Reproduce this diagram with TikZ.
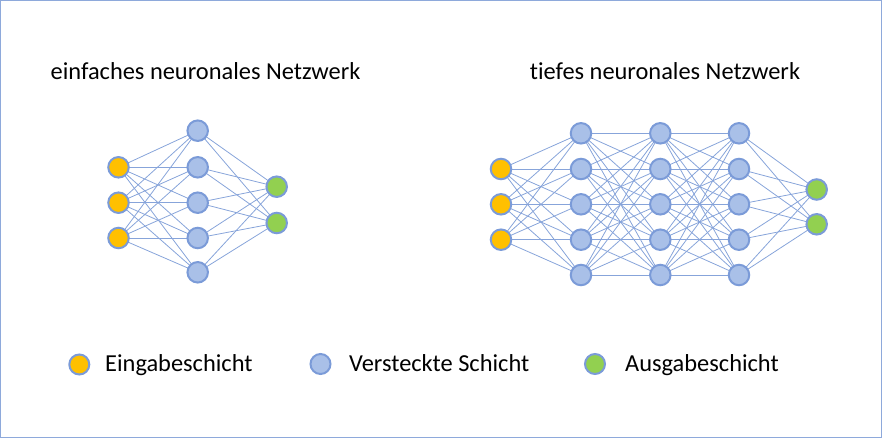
\documentclass[tikz,border=0pt]{standalone}
\usepackage{fontspec}
\setmainfont[Ligatures=NoCommon]{Carlito}
\definecolor{nodeblue}{HTML}{A9C0E8}
\definecolor{strokeblue}{HTML}{7B9BD8}
\definecolor{edgeblue}{HTML}{87A4DA}
\definecolor{inyellow}{HTML}{FFC000}
\definecolor{outgreen}{HTML}{92D050}
\definecolor{framecol}{HTML}{8EA9DB}
\tikzset{
  neuron/.style={circle, draw=strokeblue, line width=2pt, minimum size=20.5pt, inner sep=0pt},
  innode/.style={neuron, fill=inyellow},
  hidnode/.style={neuron, fill=nodeblue},
  outnode/.style={neuron, fill=outgreen},
  legnode/.style={neuron, minimum size=20pt},
  edge/.style={draw=edgeblue, line width=0.8pt},
  title/.style={font=\fontsize{24.4}{28}\selectfont, anchor=base, inner sep=0pt},
  legtext/.style={font=\fontsize{24.4}{28}\selectfont, anchor=base west, inner sep=0pt}
}
\begin{document}
\begin{tikzpicture}[x=1pt,y=-1pt]
\useasboundingbox (0,0) rectangle (882,438);
\draw[framecol, line width=1.2pt] (0.6,0.6) rectangle (881.4,437.4);

% titles
\node[title] (t1) at (205.5,80) {einfaches neuronales Netzwerk};
\node[title] (t2) at (665,80) {tiefes neuronales Netzwerk};

% simple network
\foreach \i/\y in {1/167.3,2/202.7,3/238} \coordinate (ai\i) at (118.5,\y);
\foreach \i/\y in {1/130.7,2/167.3,3/202.7,4/238,5/272.3} \coordinate (ah\i) at (197.7,\y);
\foreach \i/\y in {1/186.7,2/223} \coordinate (ao\i) at (276.7,\y);
\foreach \i in {1,2,3} \foreach \j in {1,...,5} \draw[edge] (ai\i) -- (ah\j);
\foreach \j in {1,...,5} \foreach \k in {1,2} \draw[edge] (ah\j) -- (ao\k);
\foreach \i in {1,2,3} \node[innode] (sin\i) at (ai\i) {};
\foreach \j in {1,...,5} \node[hidnode] (shid\j) at (ah\j) {};
\foreach \k in {1,2} \node[outnode] (sout\k) at (ao\k) {};

% deep network
\foreach \i/\y in {1/169,2/204.3,3/239.7} \coordinate (bi\i) at (501,\y);
\foreach \l/\x in {1/581,2/660.3,3/739} {
  \foreach \j/\y in {1/133.3,2/169,3/204.3,4/239.7,5/275} \coordinate (b\l h\j) at (\x,\y);
}
\foreach \k/\y in {1/189.5,2/224.3} \coordinate (bo\k) at (816.7,\y);
\foreach \i in {1,2,3} \foreach \j in {1,...,5} \draw[edge] (bi\i) -- (b1h\j);
\foreach \i in {1,...,5} \foreach \j in {1,...,5} {
  \draw[edge] (b1h\i) -- (b2h\j);
  \draw[edge] (b2h\i) -- (b3h\j);
}
\foreach \j in {1,...,5} \foreach \k in {1,2} \draw[edge] (b3h\j) -- (bo\k);
\foreach \i in {1,2,3} \node[innode] (din\i) at (bi\i) {};
\foreach \l in {1,2,3} \foreach \j in {1,...,5} \node[hidnode] (dh\l\j) at (b\l h\j) {};
\foreach \k in {1,2} \node[outnode] (dout\k) at (bo\k) {};

% legend
\node[legnode, fill=inyellow] (l1) at (79.3,364.5) {};
\node[legtext] (l1t) at (105,371.7) {Eingabeschicht};
\node[legnode, fill=nodeblue] (l2) at (320.5,364) {};
\node[legtext] (l2t) at (349,371.7) {Versteckte Schicht};
\node[legnode, fill=outgreen] (l3) at (595,364) {};
\node[legtext] (l3t) at (625,371.7) {Ausgabeschicht};
\end{tikzpicture}
\end{document}
